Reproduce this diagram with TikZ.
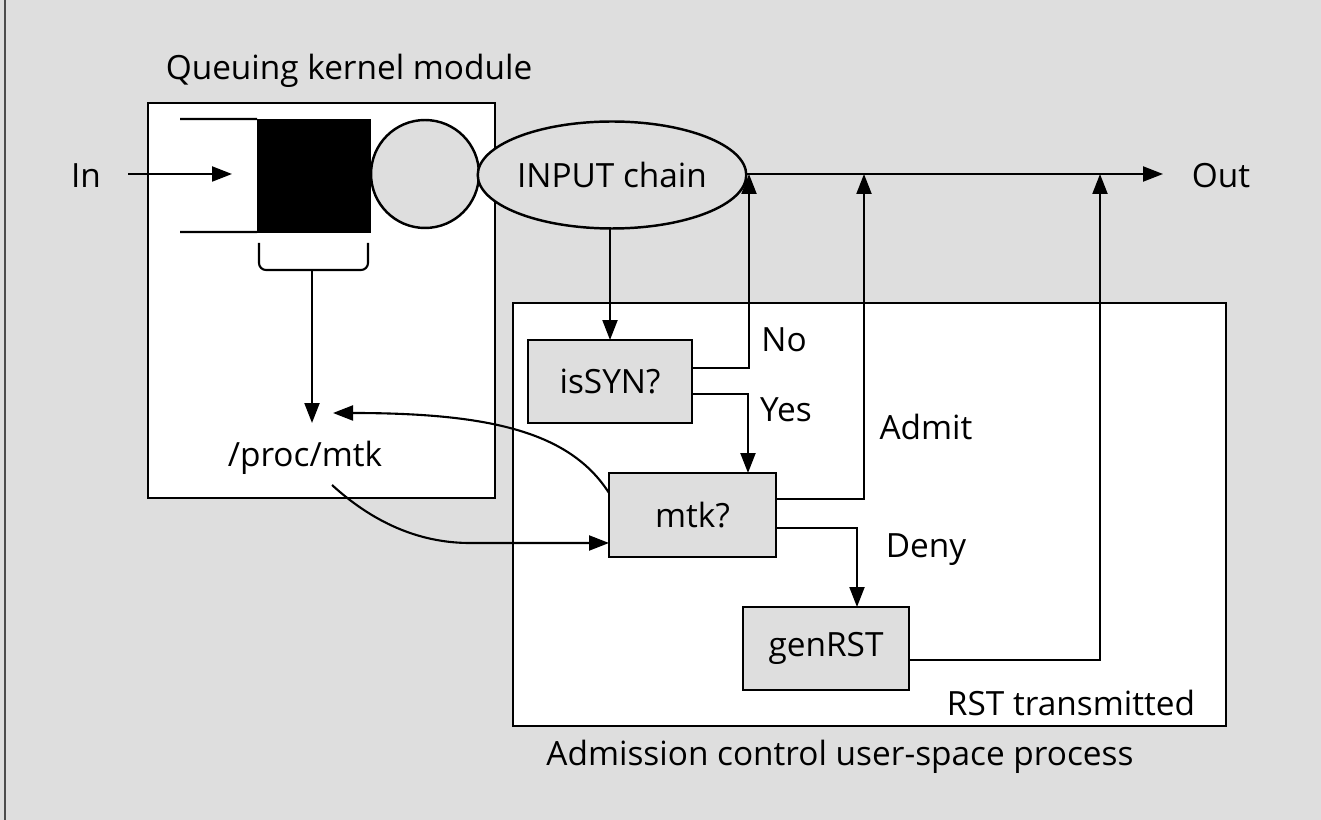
\documentclass[tikz,border=0pt]{standalone}
\usepackage{fontspec}
\setmainfont{Open Sans}
\usetikzlibrary{arrows.meta,shapes.geometric,calc}
\begin{document}
\begin{tikzpicture}[x=0.02cm,y=-0.02cm,
  font=\fontsize{19}{22}\selectfont,
  every node/.style={inner sep=0pt, outer sep=0pt},
  bg/.style={fill=black!13},
  ln/.style={line width=1.2pt, black},
  arr/.style={ln, -{Triangle[length=0.4cm,width=0.3cm]}},
  frame/.style={draw, line width=1.4pt, fill=white},
  proc/.style={draw, line width=1.4pt, fill=black!13, rectangle},
  lbl/.style={text=black}
]
% background
\fill[bg] (0,0) rectangle (1321,820);
\useasboundingbox (0,0) rectangle (1321,820);
\draw[line width=1.5pt, black!70] (5,0) -- (5,820);

% containers
\node[frame, minimum width=6.94cm, minimum height=7.9cm] (kernel) at (321.5,300.5) {};
\node[frame, minimum width=14.26cm, minimum height=8.46cm] (adm) at (869.5,514.5) {};

% titles
\node[lbl] (ktitle) at (349,71) {Queuing kernel module};
\node[lbl] (atitle) at (840,757) {Admission control user-space process};

% queue
\node[fill=black, draw=black, minimum width=2.26cm, minimum height=2.26cm] (queue) at (313.5,175.5) {};
\coordinate (qtop) at (180,119);
\coordinate (qbot) at (180,232);
\draw[ln] (qtop) -- (queue.north west);
\draw[ln] (qbot) -- (queue.south west);
\node[circle, draw, line width=1.4pt, fill=black!13, minimum size=2.16cm] (circ) at (425,174) {};

% In / Out
\node[lbl] (inl) at (86,176) {In};
\coordinate (inS) at (128,174);
\coordinate (inT) at (232,174);
\draw[arr] (inS) -- (inT);

\node[ellipse, draw, line width=1.4pt, fill=black!13, minimum width=4.4cm, minimum height=2.14cm] (input) at (612,175) {INPUT chain};
\draw[ln] (circ.east) -- (input.west |- circ.east);

\coordinate (outT) at (1163,174);
\node[lbl] (outl) at (1221,176) {Out};
\draw[arr] (input.east |- outT) -- (outT);

% process boxes
\node[proc, minimum width=3.28cm, minimum height=1.66cm] (issyn) at (610,381.5) {isSYN?};
\node[proc, minimum width=3.34cm, minimum height=1.68cm] (mtk) at (692.5,515) {mtk?};
\node[proc, minimum width=3.32cm, minimum height=1.66cm] (genrst) at (826,648.5) {genRST};

% INPUT -> isSYN
\draw[arr] (input.south -| issyn.north) -- (issyn.north);

% No branch
\coordinate (noT) at (749,174);
\draw[arr] ([yshift=-0.56cm]issyn.north east) -| (noT);
\node[lbl] (nol) at (784,340) {No};

% Yes branch
\draw[arr] ([yshift=-1.08cm]issyn.north east) -| ([xshift=1.11cm]mtk.north);
\node[lbl] (yesl) at (786,410) {Yes};

% Admit branch
\coordinate (admT) at (864,174);
\draw[arr] ([yshift=-0.52cm]mtk.north east) -| (admT);
\node[lbl] (admitl) at (926,427) {Admit};

% Deny branch
\draw[arr] ([yshift=-1.1cm]mtk.north east) -| ([xshift=0.62cm]genrst.north);
\node[lbl] (denyl) at (926,550) {Deny};

% RST branch
\coordinate (rstT) at (1100,174);
\draw[arr] ([yshift=-0.23cm]genrst.east) -| (rstT);
\node[lbl] (rstl) at (1071,703) {RST transmitted};

% brace and /proc/mtk
\node[lbl] (procl) at (305,458) {/proc/mtk};
\draw[ln, rounded corners=0.14cm] (259,243) -- (259,270) -- (368,270) -- (368,243);
\coordinate (brc) at (312,270);
\coordinate (procIn) at (312,423);
\draw[arr] (brc) -- (procIn);

% curves
\coordinate (procR) at (333,413);
\draw[arr] ([yshift=-0.4cm]mtk.north west) .. controls (570,432) and (490,413) .. (procR);
\coordinate (pS) at (332,485);
\draw[arr] (pS) .. controls (378,527) and (425,543) .. (470,543) -- ([yshift=-0.56cm]mtk.west);
\end{tikzpicture}
\end{document}
